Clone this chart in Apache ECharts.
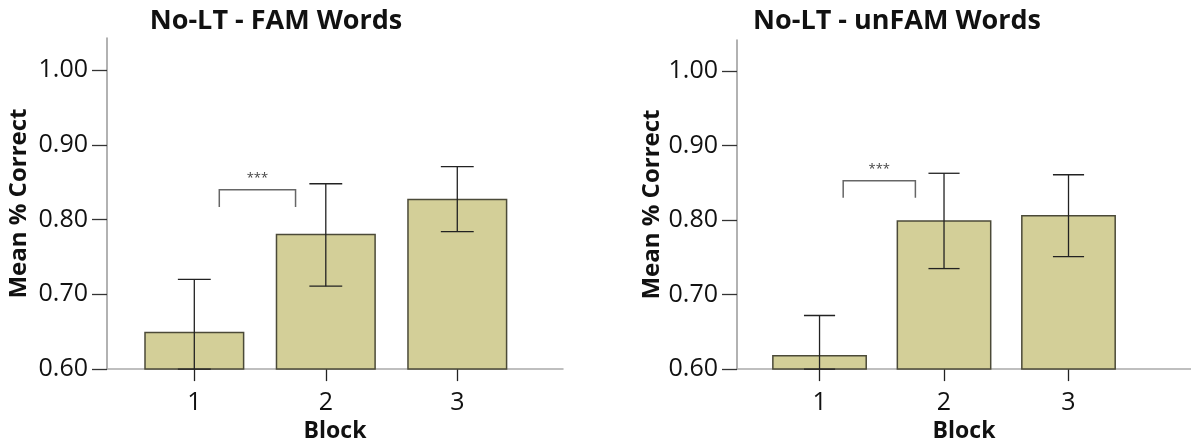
<!DOCTYPE html>
<html>
<head>
<meta charset="utf-8">
<script src="https://cdn.jsdelivr.net/npm/echarts@6/dist/echarts.min.js"></script>
<style>
  html, body { margin: 0; padding: 0; background: #fff; }
  #chart { width: 1191px; height: 448px; }
</style>
</head>
<body>
<div id="chart"></div>
<script>
// data
const blocks = [1, 2, 3];
const yTicks = [0.6, 0.7, 0.8, 0.9, 1.0];

const famMeans = [0.649, 0.780, 0.827];
const famUpper = [0.720, 0.848, 0.871];
const famLower = [0.578, 0.711, 0.784];

const unfamMeans = [0.618, 0.799, 0.806];
const unfamUpper = [0.672, 0.863, 0.861];
const unfamLower = [0.565, 0.735, 0.751];

// significance bracket between block 1 and 2: [from, to, top, legBottom]
const famSig = [1, 2, 0.840, 0.817];
const unfamSig = [1, 2, 0.853, 0.830];
const sigLabel = '***';

const FONT = '"Open Sans", "Noto Sans", sans-serif';
const Y_MIN = 0.6;
const BAR_FILL = '#d3cf98';
const BAR_EDGE = '#4b4a38';
const INK = '#222';

function rows(means, lower, upper) {
  return blocks.map((b, i) => [b, means[i], lower[i], upper[i]]);
}

function renderBar(params, api) {
  const x = api.value(0);
  const band = api.size([1, 0])[0];
  const bw = band * 0.75;
  const cw = band * 0.25;
  const base = api.coord([x, Y_MIN]);
  const top = api.coord([x, api.value(1)]);
  const lo = api.coord([x, Math.max(api.value(2), Y_MIN)]);
  const hi = api.coord([x, api.value(3)]);
  const line = (x1, y1, x2, y2) => ({
    type: 'line',
    shape: { x1, y1, x2, y2 },
    style: { stroke: INK, lineWidth: 1.3 }
  });
  return {
    type: 'group',
    children: [
      {
        type: 'rect',
        shape: { x: top[0] - bw / 2, y: top[1], width: bw, height: base[1] - top[1] },
        style: { fill: BAR_FILL, stroke: BAR_EDGE, lineWidth: 1.5 }
      },
      line(hi[0], hi[1], lo[0], lo[1]),
      line(hi[0] - cw / 2, hi[1], hi[0] + cw / 2, hi[1]),
      line(lo[0] - cw / 2, lo[1], lo[0] + cw / 2, lo[1])
    ]
  };
}

function renderSig(params, api) {
  const band = api.size([1, 0])[0];
  const a = api.coord([api.value(0), api.value(2)]);
  const b = api.coord([api.value(1), api.value(2)]);
  const leg = api.coord([api.value(0), api.value(3)])[1];
  const x1 = a[0] + band * 0.19;
  const x2 = b[0] - band * 0.23;
  return {
    type: 'group',
    children: [
      {
        type: 'polyline',
        shape: { points: [[x1, leg], [x1, a[1]], [x2, a[1]], [x2, leg]] },
        style: { stroke: '#666', lineWidth: 1.5, fill: null }
      },
      {
        type: 'text',
        style: {
          x: (x1 + x2) / 2, y: a[1] - 5,
          text: sigLabel, align: 'center', verticalAlign: 'bottom',
          fill: '#444', font: '13px ' + FONT
        }
      }
    ]
  };
}

function xAxis(gridIndex, min, max) {
  return {
    type: 'value', gridIndex, min, max,
    name: 'Block', nameLocation: 'middle', nameGap: 50,
    nameTextStyle: { fontFamily: FONT, fontWeight: 'bold', fontSize: 23, color: '#111' },
    axisLine: { lineStyle: { color: '#aaa', width: 1.5 } },
    axisTick: { customValues: blocks, length: 12, lineStyle: { color: INK, width: 1.3 } },
    axisLabel: { customValues: blocks, margin: 21, fontFamily: FONT, fontSize: 25, color: '#111' },
    splitLine: { show: false }
  };
}

function yAxis(gridIndex, max, gap) {
  return {
    type: 'value', gridIndex, min: Y_MIN, max,
    name: 'Mean % Correct', nameLocation: 'middle', nameGap: gap,
    nameTextStyle: { fontFamily: FONT, fontWeight: 'bold', fontSize: 24, color: '#111' },
    axisLine: { show: true, lineStyle: { color: '#999', width: 1.5 } },
    axisTick: { show: true, customValues: yTicks, length: 15, lineStyle: { color: '#333', width: 1.3 } },
    axisLabel: {
      customValues: yTicks, margin: 19, fontFamily: FONT, fontSize: 25, color: '#111',
      formatter: v => v.toFixed(2)
    },
    splitLine: { show: false }
  };
}

const chart = echarts.init(document.getElementById('chart'), null, { renderer: 'canvas' });

chart.setOption({
  backgroundColor: '#fff',
  animation: false,
  title: [
    {
      text: 'No-LT - FAM Words', left: 271, top: 3, textAlign: 'center',
      textStyle: { fontFamily: FONT, fontWeight: 'bold', fontSize: 27, color: '#111' }
    },
    {
      text: 'No-LT - unFAM Words', left: 892, top: 3, textAlign: 'center',
      textStyle: { fontFamily: FONT, fontWeight: 'bold', fontSize: 27, color: '#111' }
    }
  ],
  grid: [
    { left: 107, top: 38, width: 456, height: 336 },
    { left: 737, top: 40, width: 454, height: 334 }
  ],
  xAxis: [xAxis(0, 0.336, 3.804), xAxis(1, 0.337, 3.984)],
  yAxis: [yAxis(0, 1.043, 76), yAxis(1, 1.042, 72)],
  series: [
    {
      type: 'custom', xAxisIndex: 0, yAxisIndex: 0,
      renderItem: renderBar, data: rows(famMeans, famLower, famUpper)
    },
    {
      type: 'custom', xAxisIndex: 1, yAxisIndex: 1,
      renderItem: renderBar, data: rows(unfamMeans, unfamLower, unfamUpper)
    },
    {
      type: 'custom', xAxisIndex: 0, yAxisIndex: 0,
      renderItem: renderSig, data: [famSig]
    },
    {
      type: 'custom', xAxisIndex: 1, yAxisIndex: 1,
      renderItem: renderSig, data: [unfamSig]
    }
  ]
});
</script>
</body>
</html>
